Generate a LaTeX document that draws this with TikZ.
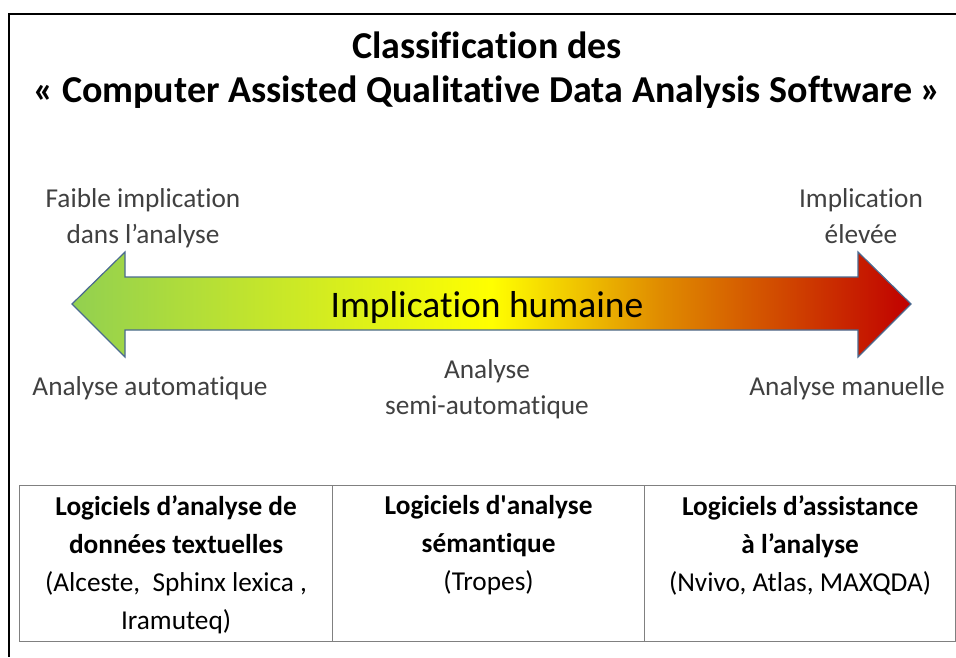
\documentclass[tikz,border=0pt]{standalone}
\usepackage{fontspec}
\setmainfont{Carlito}[Ligatures={NoCommon}]
\usetikzlibrary{positioning}

\definecolor{lowgreen}{RGB}{146,208,80}
\definecolor{midyellow}{RGB}{255,255,0}
\definecolor{midorange}{RGB}{224,140,0}
\definecolor{highred}{RGB}{192,0,0}
\definecolor{arrowline}{RGB}{74,106,144}
\definecolor{labelgray}{RGB}{64,64,64}
\definecolor{tablegray}{RGB}{128,128,128}

\pgfdeclarehorizontalshading{implication}{100bp}{
    color(0bp)=(lowgreen);
    color(25bp)=(lowgreen);
    color(50bp)=(midyellow);
    color(60bp)=(midorange);
    color(75bp)=(highred);
    color(100bp)=(highred)
}

\begin{document}
\begin{tikzpicture}[
    x=1pt, y=-1pt,
    title/.style={
        font=\fontsize{38}{44}\selectfont\bfseries,
        anchor=base,
        inner sep=0pt,
    },
    scale label/.style={
        font=\fontsize{27.3}{36}\selectfont,
        text=labelgray,
        align=center,
        anchor=north,
        inner sep=0pt,
    },
    big arrow/.style={
        shading=implication,
        draw=arrowline,
        line width=1.2pt,
        line join=miter,
    },
    cell/.style={
        draw=tablegray,
        line width=1.2pt,
        anchor=north west,
        minimum height=156pt,
        inner sep=0pt,
    },
    celltext/.style={
        font=\fontsize{27.3}{38.3}\selectfont,
        align=center,
        anchor=north,
        inner sep=0pt,
    }
]
    \useasboundingbox (0,0) rectangle (956,657);

    % Frame
    \draw[line width=1.6pt] (956,14) -- (9,14) -- (9,657);

    % Title
    \node[title] (title) at (487,58) {Classification des};
    \node[title] (subtitle) at (487,102) {« Computer Assisted Qualitative Data Analysis Software »};

    % Arrow
    \shadedraw[big arrow] (72,304) -- (125,252) -- (125,277) -- (858,277)
        -- (858,252) -- (911,304) -- (858,357) -- (858,330) -- (125,330)
        -- (125,357) -- cycle;
    \node[font=\fontsize{37.5}{40}\selectfont, anchor=base, inner sep=0pt] (human) at (487,317) {Implication humaine};

    % Scale labels
    \node[scale label] (weak) at (143,188) {Faible implication\\dans l’analyse};
    \node[scale label] (high) at (861,188) {Implication\\élevée};
    \node[scale label] (auto) at (150,376) {Analyse automatique};
    \node[scale label] (semi) at (487,359) {Analyse\\semi-automatique};
    \node[scale label] (manual) at (847,376) {Analyse manuelle};

    % Table
    \node[cell, minimum width=313pt] (textual) at (19,485) {};
    \node[cell, minimum width=312pt] (semantic) at (332,485) {};
    \node[cell, minimum width=311pt] (assist) at (644,485) {};

    \node[celltext, below=10pt of textual.north] {\textbf{Logiciels d’analyse de}\\\textbf{données textuelles}\\(Alceste,\ \ Sphinx lexica ,\\Iramuteq)};
    \node[celltext, below=10pt of semantic.north] {\textbf{Logiciels d\textquotesingle analyse}\\\textbf{sémantique}\\(Tropes)};
    \node[celltext, below=10pt of assist.north] {\textbf{Logiciels d’assistance}\\\textbf{à l’analyse}\\(Nvivo, Atlas, MAXQDA)};
\end{tikzpicture}
\end{document}
